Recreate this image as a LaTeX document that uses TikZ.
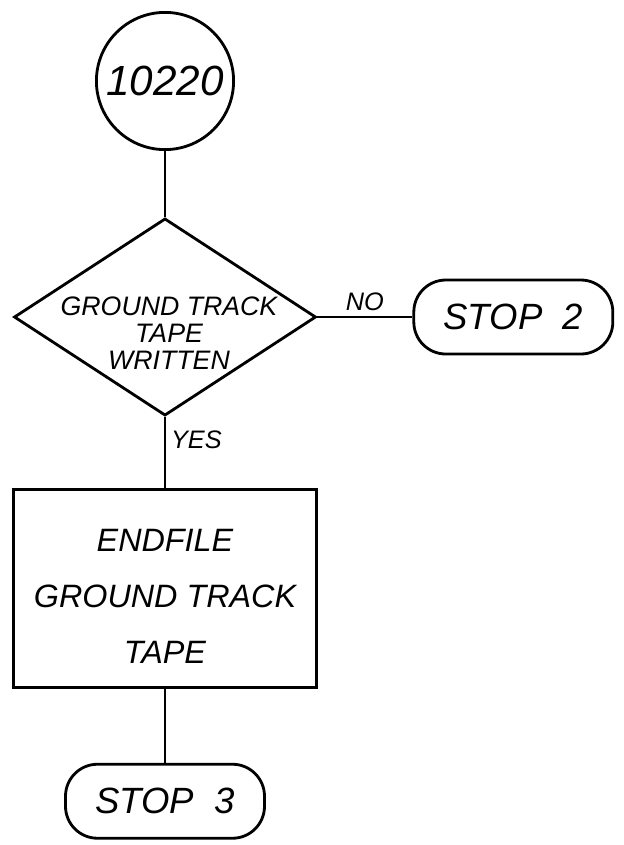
\documentclass[tikz,border=0pt]{standalone}
\usepackage{fontspec}
\setmainfont{Liberation Sans}
\usetikzlibrary{
  positioning,
  shapes.geometric,
}
\tikzset{
  flowline/.style={line width=2pt},
  connnode/.style={
    circle, draw, line width=2pt, minimum size=3.43cm,
    inner sep=0pt, font=\fontsize{30}{30}\selectfont\itshape
  },
  decnode/.style={
    diamond, draw, line width=2pt, minimum width=7.55cm,
    minimum height=4.93cm, inner sep=0pt
  },
  dectext/.style={align=center, font=\fontsize{19}{19}\selectfont\itshape},
  procnode/.style={
    rectangle, draw, line width=2pt,
    minimum width=7.575cm, minimum height=4.95cm
  },
  proctext/.style={align=center, font=\fontsize{23}{40}\selectfont\itshape},
  termnode/.style={
    rectangle, rounded corners=0.8cm, draw, line width=2pt,
    minimum width=4.975cm, minimum height=1.85cm,
    font=\fontsize{26}{26}\selectfont\itshape
  },
  branchlabel/.style={font=\fontsize{18}{18}\selectfont\itshape},
}

\begin{document}
\begin{tikzpicture}

  \useasboundingbox (0,0) rectangle (15.6,-21.125);

  % ── Entry connector ──
  \node[connnode] (entry) at (4.125,-2.025) {10220};

  % ── Decision ──
  \node[decnode, below=1.65cm of entry] (tapechk) {};
  \node[dectext] (tapechktxt) at ([xshift=0.1cm, yshift=-0.4cm]tapechk.center)
    {GROUND TRACK\\TAPE\\WRITTEN};

  \node[termnode, right=2.375cm of tapechk] (stoptwo) {STOP\ \ 2};

  % ── Process box ──
  \node[procnode, below=1.775cm of tapechk] (endfile) {};
  \node[proctext] (endfiletxt) at ([yshift=-0.2cm]endfile.center)
    {ENDFILE\\GROUND TRACK\\TAPE};

  \node[termnode, below=1.85cm of endfile] (stopthree) {STOP\ \ 3};

  % ── Connectors ──
  \draw[flowline] (entry.south) -- (tapechk.north);
  \draw[flowline] (tapechk.east) -- node[branchlabel, above] {NO} (stoptwo.west);
  \draw[flowline] (tapechk.south) -- node[branchlabel, right, pos=0.32] {YES} (endfile.north);
  \draw[flowline] (endfile.south) -- (stopthree.north);

\end{tikzpicture}
\end{document}
